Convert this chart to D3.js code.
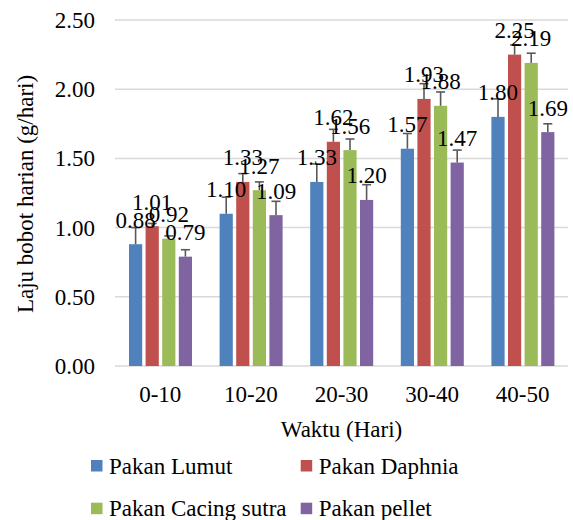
<!DOCTYPE html>
<html><head><meta charset="utf-8">
<script src="https://cdn.jsdelivr.net/npm/d3@7"></script>
<style>body{margin:0;background:#fff}</style>
</head><body><svg id="c" width="573" height="520" font-family="Liberation Serif, Tinos, Times New Roman, DejaVu Serif, serif"></svg>
<script>
const categories = ["0-10","10-20","20-30","30-40","40-50"];
const seriesNames = ["Pakan Lumut","Pakan Daphnia","Pakan Cacing sutra","Pakan pellet"];
const lumut   = [0.88,1.10,1.33,1.57,1.80];
const daphnia = [1.01,1.33,1.62,1.93,2.25];
const cacing  = [0.92,1.27,1.56,1.88,2.19];
const pellet  = [0.79,1.09,1.20,1.47,1.69];
const errLumut   = [0.12,0.12,0.13,0.11,0.13];
const errDaphnia = [0.02,0.06,0.09,0.11,0.07];
const errCacing  = [0.02,0.06,0.08,0.10,0.07];
const errPellet  = [0.05,0.10,0.11,0.09,0.06];
const yTicks = [0,0.5,1,1.5,2,2.5];
const colors = ["#4f81bd","#c0504d","#9bbb59","#8064a2"];

const values = [lumut,daphnia,cacing,pellet];
const errs = [errLumut,errDaphnia,errCacing,errPellet];

const svg = d3.select("#c");
const FS = 23;
const L=115, R=568, T=20, B=366;
const x0 = d3.scaleBand().domain(categories).range([L,R]).padding(0);
const x1 = d3.scaleBand().domain(d3.range(4)).range([14, x0.bandwidth()-13.6]).paddingInner(0.205).paddingOuter(0);
const y = d3.scaleLinear().domain([0,2.5]).range([B,T]);

svg.append("g").selectAll("line").data(yTicks).join("line")
  .attr("x1",L).attr("x2",R).attr("y1",d=>y(d)).attr("y2",d=>y(d))
  .attr("stroke","#d9d9d9").attr("stroke-width",1.5);
svg.append("g").selectAll("text").data(yTicks).join("text")
  .attr("x",95).attr("y",d=>y(d)+8).attr("text-anchor","end").attr("font-size",FS)
  .text(d=>d3.format(".2f")(d));
svg.append("g").selectAll("text").data(categories).join("text")
  .attr("x",d=>x0(d)+x0.bandwidth()/2).attr("y",401.5).attr("text-anchor","middle").attr("font-size",FS)
  .text(d=>d);

const flat = [];
values.forEach((arr,s)=>arr.forEach((v,i)=>flat.push({s,i,v,e:errs[s][i]})));
const bx = d=>x0(categories[d.i])+x1(d.s);
const bw = x1.bandwidth();

svg.append("g").selectAll("rect").data(flat).join("rect")
  .attr("x",bx).attr("width",bw).attr("y",d=>y(d.v)).attr("height",d=>y(0)-y(d.v))
  .attr("fill",d=>colors[d.s]);

const eg = svg.append("g").attr("stroke","#595959").attr("stroke-width",1.6);
eg.selectAll("line.v").data(flat).join("line").attr("class","v")
  .attr("x1",d=>bx(d)+bw/2).attr("x2",d=>bx(d)+bw/2).attr("y1",d=>y(d.v)).attr("y2",d=>y(d.v+d.e));
eg.selectAll("line.c").data(flat).join("line").attr("class","c")
  .attr("x1",d=>bx(d)+bw/2-4.5).attr("x2",d=>bx(d)+bw/2+4.5).attr("y1",d=>y(d.v+d.e)).attr("y2",d=>y(d.v+d.e));

svg.append("g").selectAll("text").data(flat).join("text")
  .attr("x",d=>bx(d)+bw/2).attr("y",d=>y(d.v)-16.5).attr("text-anchor","middle").attr("font-size",FS)
  .text(d=>d3.format(".2f")(d.v));

svg.append("text").attr("x",(L+R)/2).attr("y",437).attr("text-anchor","middle").attr("font-size",FS).text("Waktu (Hari)");
svg.append("text").attr("transform","translate(33,194) rotate(-90)").attr("text-anchor","middle").attr("font-size",FS).text("Laju bobot harian (g/hari)");

const legX = [91,300.7], legY=[460,502.7];
const lg = svg.append("g").selectAll("g").data(seriesNames).join("g")
  .attr("transform",(d,i)=>`translate(${legX[i%2]},${legY[Math.floor(i/2)]})`);
lg.append("rect").attr("width",11.5).attr("height",11.5).attr("fill",(d,i)=>colors[i]);
lg.append("text").attr("x",18).attr("y",13.5).attr("font-size",FS).text(d=>d);
</script></body></html>
